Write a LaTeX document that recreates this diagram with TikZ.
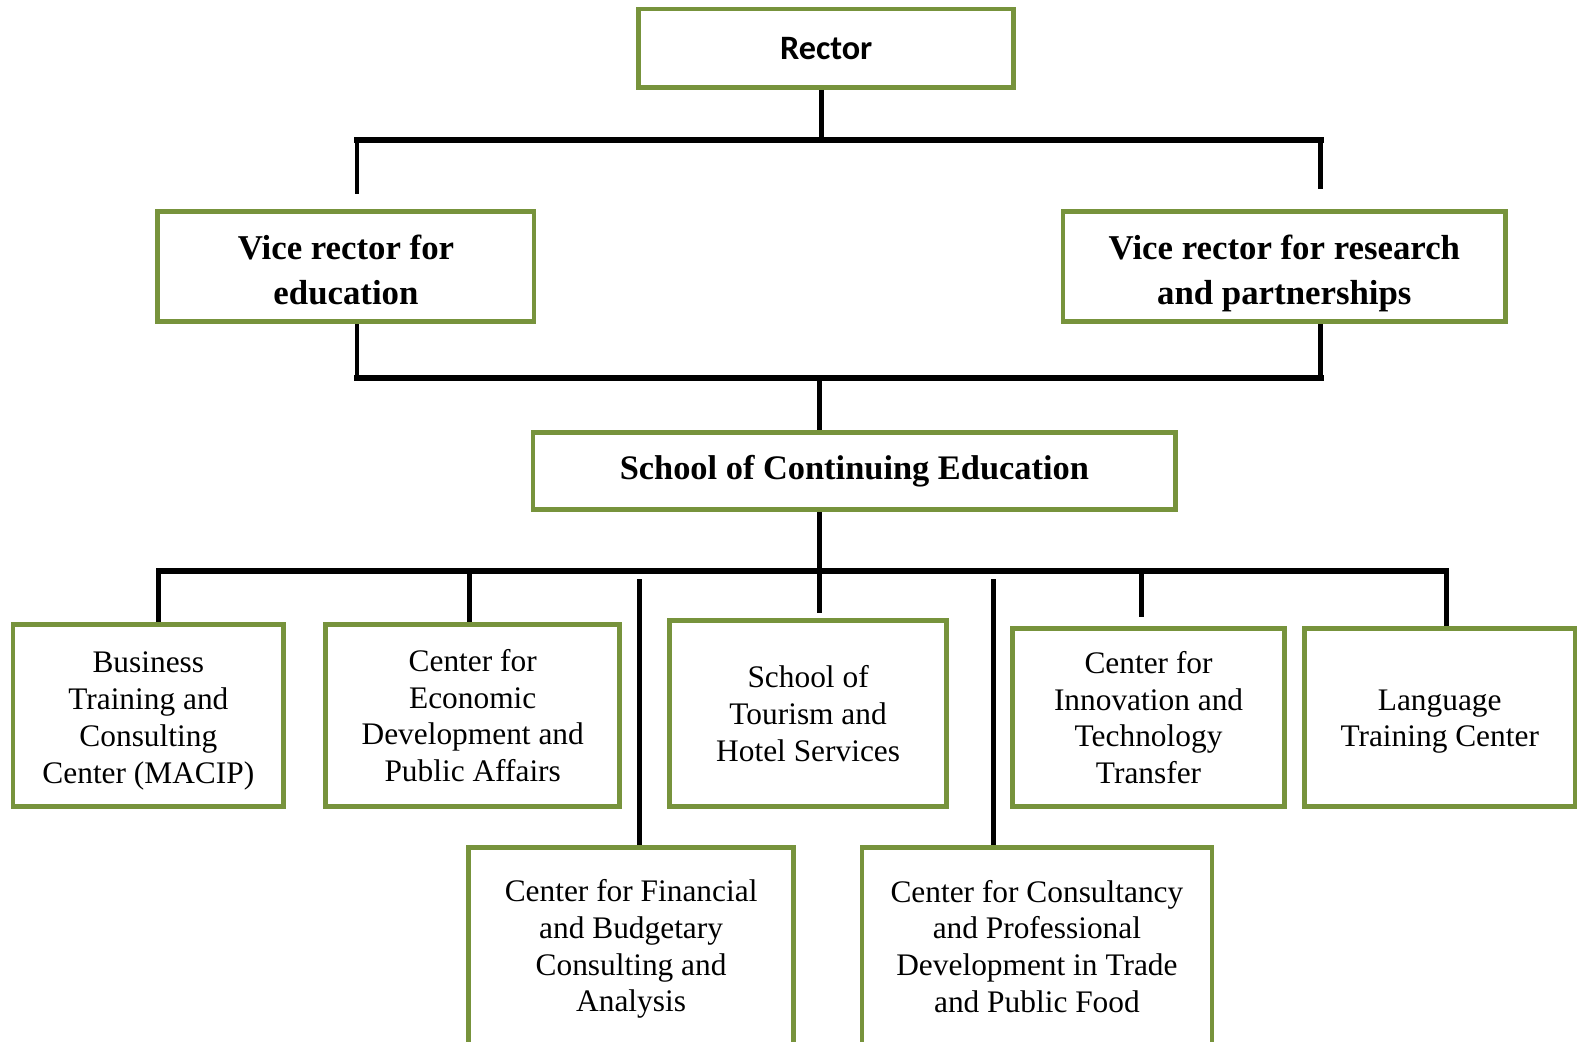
\documentclass[tikz,border=0pt]{standalone}
\usepackage{fontspec}
\setmainfont{Liberation Serif}
\newfontfamily\rectorfont{Carlito}
\definecolor{boxBorder}{HTML}{77933C}

\begin{document}
\begin{tikzpicture}[
    x=0.5pt, y=-0.5pt,
    unit/.style={
        rectangle, draw=boxBorder, fill=white,
        line width=2.4pt, align=center,
        font=\fontsize{15.6}{18.25}\selectfont
    },
    head/.style={
        unit, font=\fontsize{17.3}{22.5}\selectfont\bfseries,
        text height=38pt, text depth=0pt
    },
    bus/.style={line width=3.2pt, line cap=rect},
    drop/.style={line width=2.4pt}
]
  \clip (0,0) rectangle (1568,1036);
  \useasboundingbox (0,0) rectangle (1568,1036);

  % Nodes
  \node[unit, font=\fontsize{17}{20}\selectfont\rectorfont\bfseries,
        minimum width=186.5pt, minimum height=39pt] (rector) at (821.5,48) {Rector};

  \node[head, minimum width=187pt, minimum height=55pt] (vredu) at (344,265) {Vice rector for\\education};

  \node[head, minimum width=220pt, minimum height=55pt] (vrres) at (1277,265) {Vice rector for research\\and partnerships};

  \node[unit, font=\fontsize{17.1}{22.5}\selectfont\bfseries,
        minimum width=319.5pt, minimum height=38.5pt] (school) at (849.5,468.5) {School of Continuing Education};

  \node[unit, text height=70.4pt, minimum width=134.5pt, minimum height=90.5pt] (business) at (147.5,711.5) {Business\\Training and\\Consulting\\Center (MACIP)};

  \node[unit, minimum width=146pt, minimum height=90.5pt] (economic) at (470,711.5) {Center for\\Economic\\Development and\\Public Affairs};

  \node[unit, minimum width=137.5pt, minimum height=92.5pt] (tourism) at (803.5,709.5) {School of\\Tourism and\\Hotel Services};

  \node[unit, minimum width=135pt, minimum height=88.5pt] (innovation) at (1142,713.5) {Center for\\Innovation and\\Technology\\Transfer};

  \node[unit, text height=32.5pt, minimum width=134.5pt, minimum height=88.5pt] (language) at (1431.5,713.5) {Language\\Training Center};

  \node[unit, text height=68.4pt, minimum width=161.5pt, minimum height=98pt] (financial) at (627.5,941) {Center for Financial\\and Budgetary\\Consulting and\\Analysis};

  \node[unit, minimum width=174pt, minimum height=98pt] (consultancy) at (1031,941) {Center for Consultancy\\and Professional\\Development in Trade\\and Public Food};

  % Bus points
  \coordinate (topL) at (355,139);
  \coordinate (topC) at (817,139);
  \coordinate (topR) at (1313,139);
  \coordinate (midL) at (355,376);
  \coordinate (midC) at (815,376);
  \coordinate (midR) at (1313,376);
  \coordinate (botL) at (158,568);
  \coordinate (botC) at (815,568);
  \coordinate (botR) at (1438,568);
  \coordinate (dEcon) at (467,568);
  \coordinate (dFin) at (636,576);
  \coordinate (dCons) at (988,576);
  \coordinate (dInno) at (1135,565);

  % Rector to vice rectors
  \draw[drop] (topC |- rector.south) -- (topC);
  \draw[bus] (topL) -- (topR);
  \draw[drop, shorten >=7.5pt] (topL) -- (topL |- vredu.north);
  \draw[drop, shorten >=10pt] (topR) -- (topR |- vrres.north);

  % Vice rectors to school
  \draw[drop] (midL |- vredu.south) -- (midL);
  \draw[drop] (midR |- vrres.south) -- (midR);
  \draw[bus] (midL) -- (midR);
  \draw[drop] (midC) -- (midC |- school.north);

  % School to centers
  \draw[drop] (botC |- school.south) -- (botC);
  \draw[bus] (botL) -- (botR);
  \draw[drop] (botL) -- (botL |- business.north);
  \draw[drop] (dEcon) -- (dEcon |- economic.north);
  \draw[drop] (dFin) -- (dFin |- financial.north);
  \draw[drop, shorten >=2.5pt] (botC) -- (botC |- tourism.north);
  \draw[drop] (dCons) -- (dCons |- consultancy.north);
  \draw[drop, shorten >=4.5pt] (dInno) -- (dInno |- innovation.north);
  \draw[drop] (botR) -- (botR |- language.north);

\end{tikzpicture}
\end{document}
